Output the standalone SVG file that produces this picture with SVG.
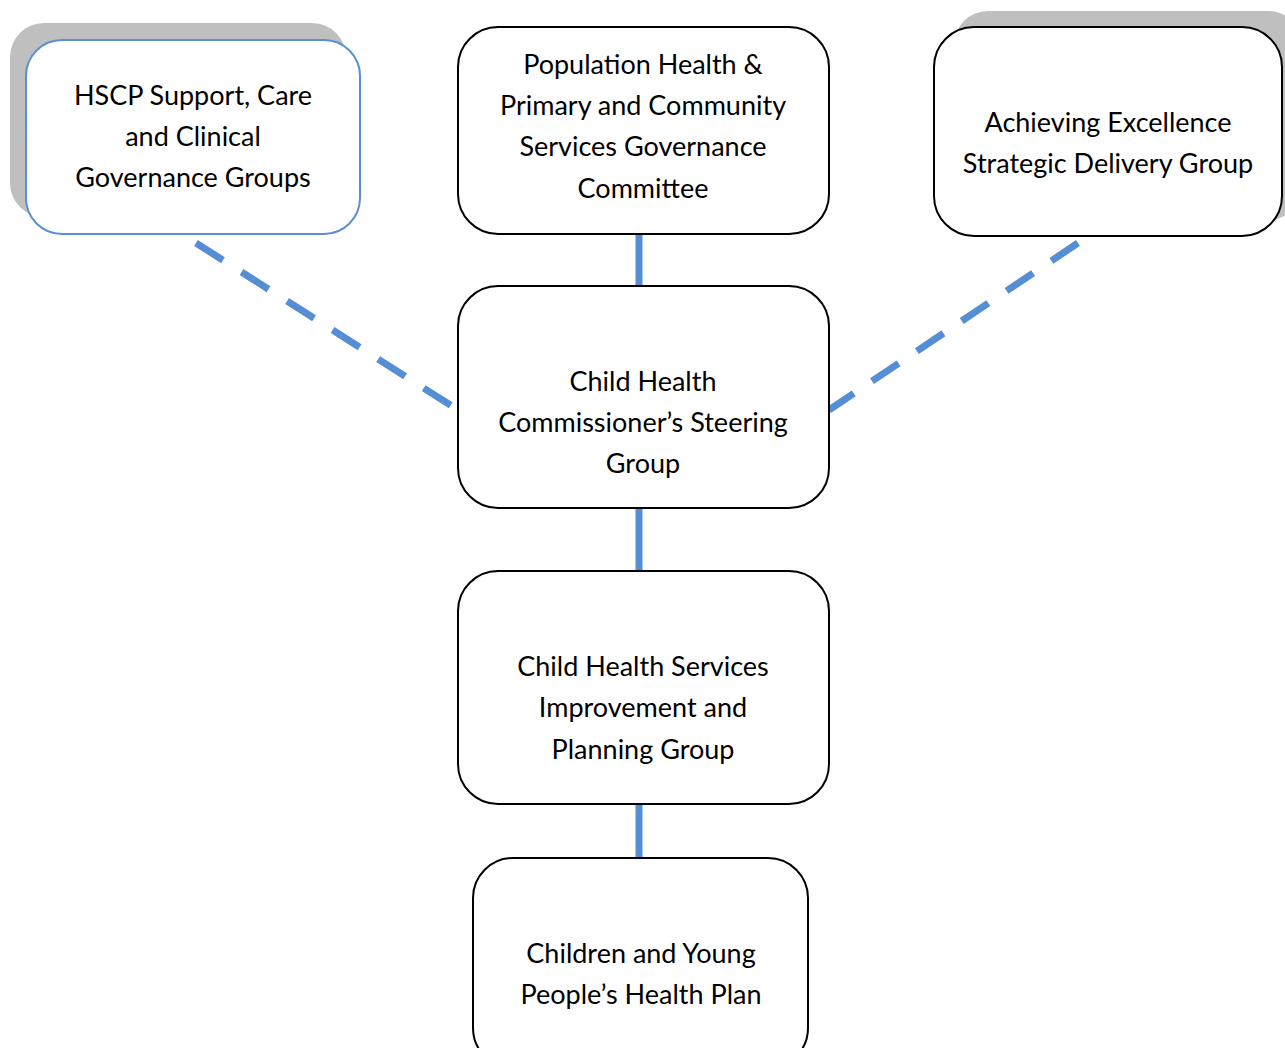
<svg xmlns="http://www.w3.org/2000/svg" width="1285" height="1048" viewBox="0 0 1285 1048">
<style>
.box{fill:#fff;stroke:#000;stroke-width:2}
.blue{fill:#fff;stroke:#5B8ED5;stroke-width:2}
.shadow{fill:#BFBFBF}
text{font-family:Lato,"Open Sans",sans-serif;font-size:27px;fill:#000;text-anchor:middle}
.solid{stroke:#558ED5;stroke-width:7;fill:none}
.dash{stroke:#558ED5;stroke-width:7;fill:none;stroke-dasharray:32 22}
</style>
<rect width="1285" height="1048" fill="#fff"/>
<g id="connectors">
<line class="solid" x1="639" y1="235" x2="639" y2="286"/>
<line class="solid" x1="639" y1="508" x2="639" y2="571"/>
<line class="solid" x1="639" y1="804" x2="639" y2="858"/>
<line class="dash" x1="196" y1="243" x2="458" y2="410"/>
<line class="dash" x1="1078" y1="243" x2="829" y2="410"/>
</g>
<g id="hscp">
<rect class="shadow" x="10" y="23" width="336" height="194" rx="34"/>
<rect class="blue" x="26" y="40" width="334" height="194" rx="36"/>
<text x="193" y="105">HSCP Support, Care</text>
<text x="193" y="146">and Clinical</text>
<text x="193" y="187">Governance Groups</text>
</g>
<g id="population">
<rect class="box" x="458" y="27" width="371" height="207" rx="40"/>
<text x="643" y="74">Population Health &amp;</text>
<text x="643" y="115">Primary and Community</text>
<text x="643" y="156">Services Governance</text>
<text x="643" y="198">Committee</text>
</g>
<g id="achieving">
<rect class="shadow" x="954" y="11" width="348" height="209" rx="34"/>
<rect class="box" x="934" y="27" width="348" height="209" rx="40"/>
<text x="1108" y="132">Achieving Excellence</text>
<text x="1108" y="173">Strategic Delivery Group</text>
</g>
<g id="steering">
<rect class="box" x="458" y="286" width="371" height="222" rx="40"/>
<text x="643" y="391">Child Health</text>
<text x="643" y="432">Commissioner’s Steering</text>
<text x="643" y="473">Group</text>
</g>
<g id="improvement">
<rect class="box" x="458" y="571" width="371" height="233" rx="40"/>
<text x="643" y="676">Child Health Services</text>
<text x="643" y="717">Improvement and</text>
<text x="643" y="759">Planning Group</text>
</g>
<g id="plan">
<rect class="box" x="473" y="858" width="335" height="210" rx="40"/>
<text x="641" y="963">Children and Young</text>
<text x="641" y="1004">People’s Health Plan</text>
</g>
</svg>
